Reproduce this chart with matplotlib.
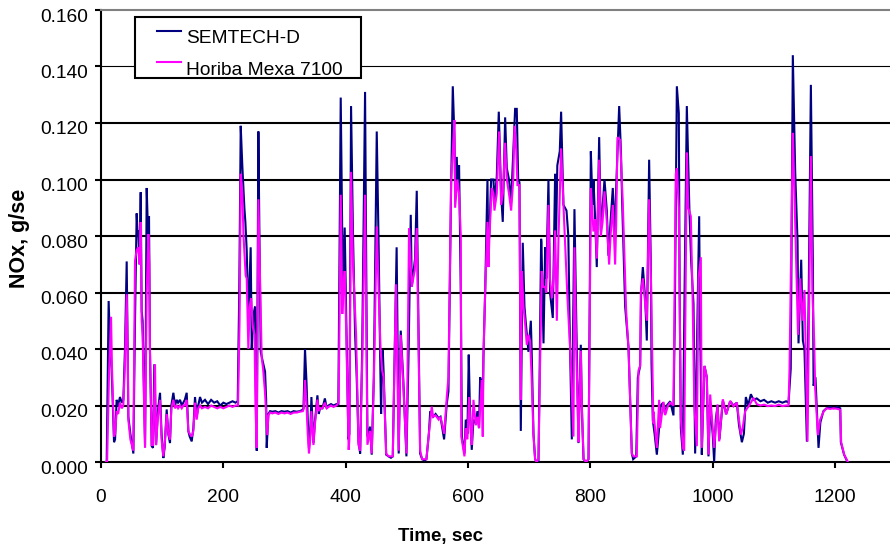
import matplotlib
matplotlib.use('Agg')
import matplotlib.pyplot as plt
from matplotlib.transforms import Bbox, ScaledTranslation
from matplotlib.patches import Rectangle

plt.rcParams['font.family'] = ['Liberation Sans', 'DejaVu Sans']

# ---------------- data ----------------
series_names = ['SEMTECH-D', 'Horiba Mexa 7100']

semtech_t = [8, 9.3, 12.5, 15, 17.4, 21.3, 23, 25.6, 28, 31, 34, 36.5, 39.2, 42, 43.5, 44.7, 48, 52.9,
             55.6, 58.3, 60, 61, 63, 64.9, 66.5, 68, 72, 74.7, 77, 78.5, 80, 82.9, 85, 87.2, 90, 93,
             96.5, 99, 101.9, 104, 107.4, 110, 112.8, 115, 118.3, 121, 123.7, 126, 129.2, 132, 134.6,
             137, 140.1, 142.8, 145, 148.3, 151, 153.7, 156.4, 159, 161.9, 165, 170, 175, 180, 185,
             190, 195, 200, 205, 210, 215, 220, 223.5, 226, 228.4, 231, 234.4, 236, 238.2, 240.9, 243,
             244.7, 246.4, 249, 251.8, 253, 254.6, 257.3, 259, 261.1, 264, 268.2, 270, 270.9, 273.6,
             276.4, 280, 285, 290, 295, 300, 305, 310, 315, 320, 325, 330, 331, 333.5, 336, 338, 340,
             342, 344, 347.3, 350, 353.8, 356, 358, 362, 366, 369, 372, 376, 380, 385, 388, 391.9,
             394.5, 396, 398.4, 401, 404.4, 406, 408.8, 412, 415.3, 418, 421, 423.7, 427, 431.7, 435.5,
             439.9, 442.6, 446, 450.8, 454, 456.2, 457.9, 459, 460.6, 462, 466.2, 470, 474, 477, 483.3,
             486.7, 490, 494, 499.3, 503, 506.4, 508, 513.4, 516.2, 521.7, 525, 529, 532, 536, 538.2,
             543, 547, 552, 555, 558, 560.9, 565.3, 568, 572.4, 575.1, 577.8, 578.9, 581.6, 583, 585.4,
             588.2, 590, 594.2, 596.3, 599, 601.2, 603, 606.1, 608.9, 612.7, 615.4, 618, 619.8, 622.5,
             624.1, 625.2, 628, 631.8, 633, 635, 637.8, 641.6, 643.2, 647, 650.3, 654.1, 656.8, 660.7,
             663.4, 667, 670.5, 674, 677, 679.7, 682, 684.1, 686.3, 689.5, 692.3, 695, 698.8, 701,
             702.7, 704, 707, 709.7, 712, 715.2, 717, 719.5, 720, 723.4, 726.1, 728, 731.5, 734, 738.6,
             740, 742.4, 744, 746, 750, 752.2, 756, 761, 764, 766, 769.7, 772, 774, 777, 780.6, 782,
             784.4, 786, 788.8, 793, 797, 800.8, 803.5, 805.1, 808, 810.5, 814.4, 817.1, 820, 823.1,
             826.9, 829.6, 833, 836.7, 840, 842.2, 847.1, 850, 852, 856.9, 862.4, 867.8, 870, 875,
             877.6, 881.4, 883, 885.8, 889.6, 892.3, 896.1, 899, 900, 902.1, 905, 908.7, 912, 915, 919,
             922, 925, 930.5, 935.9, 938, 941.4, 944.6, 946, 947.9, 951.2, 954, 957.7, 962, 964.8,
             968.6, 971.3, 975, 977.9, 979, 982.2, 984.5, 986.6, 990.4, 993.1, 996, 1000, 1002.4, 1005,
             1008, 1011, 1016.6, 1022, 1028.6, 1034, 1039.5, 1043, 1047.7, 1051, 1054.2, 1058, 1062.4,
             1066.7, 1072, 1078, 1084, 1090, 1096, 1102, 1108, 1114, 1120, 1124, 1127.6, 1131, 1134.9,
             1138.7, 1140.3, 1144.7, 1147.4, 1150, 1154, 1157, 1160.5, 1163.8, 1164.9, 1168, 1173, 1176,
             1181, 1186, 1192, 1198, 1204, 1208.5, 1209.5, 1214.8, 1220.4]
semtech_v = [0.000, 0.000, 0.057, 0.040, 0.033, 0.007, 0.008, 0.022, 0.020, 0.023, 0.021, 0.022, 0.040,
             0.071, 0.040, 0.016, 0.010, 0.003, 0.050, 0.088, 0.080, 0.082, 0.070, 0.0955, 0.0535,
             0.050, 0.006, 0.097, 0.080, 0.087, 0.040, 0.0056, 0.005, 0.0346, 0.006, 0.018, 0.0245,
             0.010, 0.0014, 0.005, 0.0186, 0.010, 0.0067, 0.020, 0.0245, 0.020, 0.022, 0.021, 0.022,
             0.020, 0.021, 0.022, 0.0245, 0.0109, 0.009, 0.0073, 0.012, 0.023, 0.016, 0.020, 0.023,
             0.021, 0.022, 0.0205, 0.022, 0.021, 0.0215, 0.020, 0.021, 0.0205, 0.021, 0.0215, 0.021,
             0.0215, 0.060, 0.119, 0.105, 0.090, 0.085, 0.075, 0.051, 0.065, 0.076, 0.040, 0.052,
             0.055, 0.030, 0.004, 0.117, 0.080, 0.039, 0.036, 0.032, 0.022, 0.005, 0.017, 0.018,
             0.0178, 0.018, 0.0175, 0.018, 0.0178, 0.018, 0.0175, 0.018, 0.0178, 0.018, 0.0185, 0.019,
             0.040, 0.028, 0.015, 0.005, 0.010, 0.023, 0.0067, 0.015, 0.0236, 0.017, 0.019, 0.019,
             0.0225, 0.019, 0.020, 0.0205, 0.020, 0.0205, 0.020, 0.129, 0.078, 0.060, 0.083, 0.050,
             0.008, 0.010, 0.126, 0.080, 0.046, 0.030, 0.007, 0.003, 0.040, 0.131, 0.009, 0.0125,
             0.0026, 0.030, 0.117, 0.075, 0.0395, 0.017, 0.030, 0.0395, 0.032, 0.0026, 0.002, 0.0015,
             0.002, 0.076, 0.003, 0.0465, 0.030, 0.002, 0.040, 0.0875, 0.062, 0.072, 0.096, 0.003,
             0.001, 0.0005, 0.001, 0.010, 0.018, 0.016, 0.017, 0.0155, 0.016, 0.012, 0.008, 0.0207,
             0.025, 0.098, 0.133, 0.115, 0.100, 0.108, 0.098, 0.105, 0.060, 0.009, 0.003, 0.015, 0.010,
             0.038, 0.020, 0.0043, 0.015, 0.0137, 0.018, 0.012, 0.030, 0.028, 0.020, 0.037, 0.060,
             0.100, 0.075, 0.081, 0.100, 0.100, 0.092, 0.101, 0.124, 0.095, 0.085, 0.122, 0.104, 0.100,
             0.092, 0.110, 0.125, 0.125, 0.100, 0.099, 0.011, 0.0776, 0.055, 0.048, 0.039, 0.045, 0.050,
             0.040, 0.010, 0.001, 0.000, 0.000, 0.030, 0.079, 0.078, 0.042, 0.076, 0.065, 0.100, 0.060,
             0.051, 0.070, 0.102, 0.080, 0.105, 0.110, 0.124, 0.091, 0.089, 0.080, 0.050, 0.008, 0.050,
             0.0895, 0.050, 0.0067, 0.020, 0.0415, 0.020, 0.001, 0.000, 0.001, 0.110, 0.091, 0.100,
             0.085, 0.069, 0.115, 0.082, 0.090, 0.100, 0.089, 0.073, 0.085, 0.097, 0.080, 0.097, 0.126,
             0.110, 0.092, 0.055, 0.0405, 0.003, 0.001, 0.002, 0.030, 0.034, 0.060, 0.069, 0.058,
             0.043, 0.107, 0.068, 0.035, 0.0148, 0.010, 0.0026, 0.011, 0.020, 0.021, 0.017, 0.020,
             0.0215, 0.0165, 0.050, 0.133, 0.1235, 0.060, 0.012, 0.0026, 0.060, 0.126, 0.0886, 0.071,
             0.056, 0.003, 0.050, 0.087, 0.056, 0.0026, 0.020, 0.034, 0.030, 0.002, 0.020, 0.010,
             0.000, 0.015, 0.020, 0.008, 0.0217, 0.017, 0.0215, 0.020, 0.021, 0.013, 0.007, 0.010,
             0.023, 0.020, 0.024, 0.022, 0.0225, 0.0215, 0.022, 0.021, 0.0215, 0.021, 0.0215, 0.021,
             0.0215, 0.021, 0.033, 0.144, 0.1025, 0.078, 0.042, 0.0716, 0.043, 0.040, 0.0072, 0.060,
             0.1335, 0.0698, 0.027, 0.030, 0.005, 0.014, 0.018, 0.019, 0.0195, 0.019, 0.0195, 0.019,
             0.007, 0.0026, 0.000]

horiba_t = [8, 10, 13, 16.4, 18, 21.3, 23, 25.6, 28, 31, 34, 36.5, 39.2, 42, 44, 44.7, 48, 52.9, 55.6,
            58.3, 61, 63, 64.9, 66.5, 68, 72, 74.7, 77.4, 79, 80, 82.9, 85, 88.3, 90, 93, 96.5, 99,
            101.9, 104, 107.4, 110, 112.8, 115, 118.3, 121, 123.7, 126, 129.2, 132, 134.6, 137, 140.1,
            142.8, 145, 148.3, 151, 153.7, 156.4, 159, 161.9, 165, 170, 175, 180, 185, 190, 195, 200,
            205, 210, 215, 220, 224, 226.5, 228.4, 231, 233, 236.5, 238.2, 240.9, 243, 245.5, 248, 251,
            252.5, 254.6, 257.3, 259, 262.7, 265, 268, 271.9, 273.6, 276.4, 280, 285, 290, 295, 300,
            305, 310, 315, 320, 325, 330, 331.5, 333.5, 336, 338, 340, 342, 344, 347.3, 350, 353.8, 356,
            358, 362, 366, 369, 372, 376, 380, 385, 388.5, 391.9, 394.5, 396, 398.4, 401, 404.9, 406,
            408.8, 412, 417, 421, 423.7, 427, 431.7, 435.5, 439.9, 442.6, 446, 450.8, 454, 457, 459.6,
            462, 466.2, 470, 474, 477, 482.2, 486.7, 490, 494, 499.3, 501, 503.6, 508, 513, 516.2,
            521.7, 525, 529, 532, 536, 540.7, 543, 547, 552, 555, 558, 561, 565.3, 568, 572.4, 575.1,
            577.8, 578.9, 582.7, 585.4, 588.2, 589, 594.2, 596.3, 599, 601.8, 604, 606.1, 608.9, 612.7,
            615.4, 618, 622.5, 624.1, 625.2, 628, 631.8, 633.4, 635, 638.8, 641.6, 643.2, 647, 650.8,
            654.1, 657, 660.7, 663.4, 667, 670.5, 674, 675.9, 679, 680.8, 684.1, 686.3, 688, 690.7, 693,
            696.1, 699, 701.6, 704, 707, 709.7, 712, 715.2, 717, 720.5, 722.6, 726.1, 728, 731.5, 734,
            737, 740, 742.4, 745.2, 748, 752.2, 757.2, 762.6, 767, 772.4, 774, 777, 780.6, 782, 784.4,
            786, 789, 793, 797, 800.8, 805.1, 807.9, 810.5, 814.4, 817.1, 820, 823.1, 826.9, 830.7,
            833, 836.7, 840.5, 842.2, 844.4, 848.7, 853.1, 858.5, 862.4, 867.8, 870.5, 875.9, 878.7,
            881.4, 882.5, 885.8, 889.6, 892.3, 896.1, 899.4, 903, 903.2, 908.7, 912.5, 914, 919.5,
            922.3, 927, 930.5, 935.9, 939.7, 941.4, 944.6, 947.9, 951.2, 953.4, 957.7, 960, 964.2, 967,
            970, 974.1, 976.8, 980.6, 982.2, 986.6, 990.4, 993.1, 995.9, 1002.4, 1007.9, 1010.6,
            1016.6, 1022, 1028.6, 1034, 1039.5, 1046, 1049, 1053.1, 1058.6, 1062.4, 1066.7, 1072, 1078,
            1084, 1090, 1096, 1102, 1108, 1114, 1120, 1124, 1125.6, 1131, 1133.2, 1137.6, 1139.5, 1143,
            1146.5, 1150.1, 1155, 1160.5, 1163, 1165.9, 1167.6, 1172, 1175.7, 1181.2, 1186, 1192, 1198,
            1204, 1208.5, 1210, 1215, 1221]
horiba_v = [0.000, 0.000, 0.030, 0.0514, 0.033, 0.009, 0.010, 0.018, 0.017, 0.021, 0.019, 0.020, 0.035,
            0.0594, 0.035, 0.015, 0.008, 0.004, 0.0712, 0.075, 0.076, 0.070, 0.0849, 0.050, 0.045,
            0.005, 0.060, 0.0807, 0.070, 0.040, 0.006, 0.006, 0.0346, 0.006, 0.016, 0.022, 0.008,
            0.002, 0.006, 0.017, 0.010, 0.008, 0.019, 0.022, 0.019, 0.020, 0.019, 0.020, 0.019, 0.020,
            0.020, 0.022, 0.011, 0.010, 0.009, 0.011, 0.021, 0.015, 0.019, 0.020, 0.019, 0.0195, 0.019,
            0.020, 0.0195, 0.019, 0.0195, 0.019, 0.0195, 0.020, 0.0195, 0.020, 0.020, 0.050, 0.102,
            0.095, 0.080, 0.066, 0.065, 0.040, 0.055, 0.058, 0.048, 0.045, 0.020, 0.005, 0.093, 0.075,
            0.037, 0.033, 0.025, 0.0095, 0.0165, 0.0175, 0.0172, 0.0175, 0.017, 0.0175, 0.0172, 0.0175,
            0.017, 0.0175, 0.0175, 0.0178, 0.018, 0.019, 0.029, 0.020, 0.010, 0.003, 0.008, 0.018,
            0.006, 0.014, 0.0221, 0.018, 0.019, 0.019, 0.021, 0.019, 0.0195, 0.020, 0.0195, 0.020,
            0.021, 0.0946, 0.0524, 0.060, 0.0676, 0.045, 0.0043, 0.008, 0.1027, 0.070, 0.0453, 0.006,
            0.004, 0.035, 0.0946, 0.0061, 0.011, 0.003, 0.028, 0.0834, 0.060, 0.040, 0.0325, 0.030,
            0.003, 0.002, 0.002, 0.002, 0.0629, 0.004, 0.045, 0.028, 0.003, 0.030, 0.0828, 0.062,
            0.068, 0.0828, 0.004, 0.001, 0.001, 0.001, 0.010, 0.0196, 0.016, 0.0165, 0.015, 0.016,
            0.013, 0.010, 0.023, 0.030, 0.100, 0.110, 0.121, 0.090, 0.100, 0.095, 0.080, 0.009, 0.002,
            0.012, 0.008, 0.023, 0.012, 0.006, 0.022, 0.013, 0.016, 0.012, 0.029, 0.009, 0.037, 0.060,
            0.085, 0.069, 0.080, 0.097, 0.095, 0.089, 0.095, 0.117, 0.091, 0.095, 0.113, 0.100, 0.095,
            0.089, 0.100, 0.119, 0.110, 0.098, 0.098, 0.022, 0.0676, 0.055, 0.050, 0.0415, 0.045,
            0.0427, 0.030, 0.0095, 0.001, 0.000, 0.001, 0.025, 0.0676, 0.062, 0.062, 0.060, 0.091,
            0.065, 0.058, 0.065, 0.082, 0.050, 0.080, 0.111, 0.085, 0.058, 0.040, 0.009, 0.076, 0.040,
            0.007, 0.020, 0.0394, 0.020, 0.001, 0.000, 0.001, 0.097, 0.0816, 0.086, 0.072, 0.107,
            0.080, 0.085, 0.0958, 0.085, 0.0699, 0.080, 0.091, 0.0699, 0.084, 0.115, 0.114, 0.091,
            0.0535, 0.040, 0.003, 0.002, 0.002, 0.0324, 0.034, 0.060, 0.065, 0.056, 0.050, 0.093,
            0.061, 0.0137, 0.0178, 0.005, 0.022, 0.012, 0.0213, 0.0166, 0.020, 0.021, 0.020, 0.102,
            0.104, 0.090, 0.0156, 0.005, 0.004, 0.1095, 0.090, 0.087, 0.060, 0.020, 0.0056, 0.0651,
            0.0725, 0.005, 0.034, 0.030, 0.0026, 0.0239, 0.005, 0.0204, 0.0073, 0.0222, 0.0168,
            0.0216, 0.0197, 0.021, 0.0097, 0.012, 0.018, 0.0197, 0.021, 0.0227, 0.0205, 0.020,
            0.0203, 0.0198, 0.020, 0.0198, 0.0203, 0.0198, 0.020, 0.020, 0.033, 0.1165, 0.099, 0.061,
            0.045, 0.065, 0.050, 0.0609, 0.0072, 0.1083, 0.060, 0.043, 0.0258, 0.0095, 0.015, 0.0178,
            0.019, 0.0188, 0.019, 0.0188, 0.0185, 0.007, 0.0026, 0.000]

x_ticks = [0, 200, 400, 600, 800, 1000, 1200]
y_ticks = [0.000, 0.020, 0.040, 0.060, 0.080, 0.100, 0.120, 0.140, 0.160]
x_label = 'Time, sec'
y_label = 'NOx, g/sec'

# ---------------- layout ----------------
W, H = 890, 547
fig = plt.figure(figsize=(W / 100, H / 100), dpi=100)
fig.patch.set_facecolor('white')


def fx(px):
    return px / W


def fy(py):
    return 1 - py / H


ax_l, ax_r, ax_t, ax_b = 101, 896.2, 10, 462
ax = fig.add_axes([fx(ax_l), fy(ax_b), (ax_r - ax_l) / W, (ax_b - ax_t) / H])
ax.set_xlim(0, 1300)
ax.set_ylim(0, 0.16)

# grid lines
for yv in y_ticks[1:-1]:
    ax.axhline(yv, color='black', lw=0.8 if abs(yv - 0.14) < 1e-9 else 1.5, zorder=1)

ln_n, = ax.plot(semtech_t, semtech_v, color='#000080', lw=1.5, zorder=3, solid_joinstyle='miter')
ln_m, = ax.plot(horiba_t, horiba_v, color='#FF00FF', lw=1.5, zorder=3.5, solid_joinstyle='miter')

ax.spines['right'].set_visible(False)
ax.spines['top'].set_color('#808080')
ax.spines['top'].set_linewidth(1.5)
ax.spines['left'].set_linewidth(1.5)
ax.spines['bottom'].set_linewidth(1.5)

ax.set_xticks(x_ticks)
ax.set_yticks(y_ticks)
ax.set_yticklabels(['%.3f' % v for v in y_ticks])
ax.set_xticklabels([str(v) for v in x_ticks])
ax.tick_params(axis='y', direction='out', length=4.3, width=1.5, labelsize=13.8, pad=5)
ax.tick_params(axis='x', direction='out', length=4.3, width=1.5, labelsize=13.8, pad=15.5)
off = ScaledTranslation(0, -5 / 100, fig.dpi_scale_trans)
for lbl in ax.get_yticklabels():
    lbl.set_transform(lbl.get_transform() + off)

fig.text(fx(441), fy(536), x_label, ha='center', va='center', fontsize=13.5, fontweight='bold')
yl = fig.text(fx(20), fy(232), y_label, ha='center', va='center', rotation=90,
              fontsize=15.5, fontweight='bold')
yl.set_clip_box(Bbox.from_extents(0, 0, 95, H - 189))
yl.set_clip_on(True)

# legend
frame = Rectangle((fx(135), fy(78)), fx(361) - fx(135), fy(17) - fy(78), transform=fig.transFigure,
                  facecolor='white', edgecolor='black', lw=1.5, zorder=6, clip_on=False)
ax.add_patch(frame)
leg = ax.legend([ln_n, ln_m], series_names, loc='upper left',
                bbox_to_anchor=(fx(157), fy(30)), bbox_transform=fig.transFigure,
                frameon=False, borderpad=0, borderaxespad=0, handlelength=1.25,
                handletextpad=0.25, labelspacing=0.72, fontsize=13.8)
leg.set_zorder(7)
hoff = ScaledTranslation(0, 5.5 / 100, fig.dpi_scale_trans)
for hl in leg.get_lines():
    hl.set_transform(hl.get_transform() + hoff)

fig.savefig('out.png', dpi=100)
